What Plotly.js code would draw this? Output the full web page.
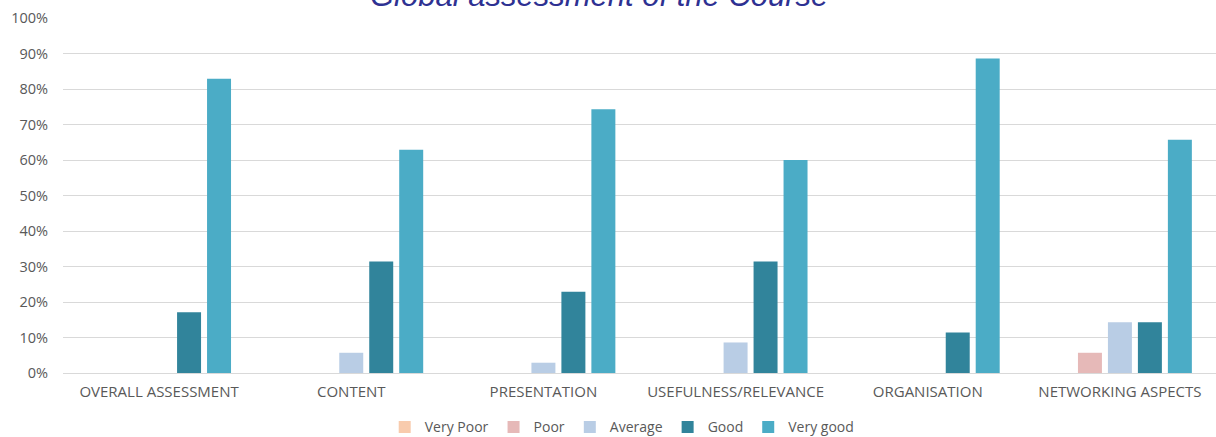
<!DOCTYPE html>
<html>
<head>
<meta charset="utf-8">
<script src="https://cdn.plot.ly/plotly-3.0.1.min.js"></script>
<style>html,body{margin:0;padding:0;background:#fff;}#chart{width:1216px;height:437px;}</style>
</head>
<body>
<div id="chart"></div>
<script>
const categories = ["OVERALL ASSESSMENT", "CONTENT", "PRESENTATION", "USEFULNESS/RELEVANCE", "ORGANISATION", "NETWORKING ASPECTS"];
const seriesNames = ["Very Poor", "Poor", "Average", "Good", "Very good"];
const veryPoor = [0, 0, 0, 0, 0, 0];
const poor = [0, 0, 0, 0, 0, 0.057];
const average = [0, 0.057, 0.029, 0.086, 0, 0.143];
const good = [0.171, 0.314, 0.229, 0.314, 0.114, 0.143];
const veryGood = [0.829, 0.629, 0.743, 0.60, 0.886, 0.657];
const colors = ["#F8CBAD", "#E6B9B8", "#B9CDE5", "#31849B", "#4BACC6"];
const tickVals = [0, 0.1, 0.2, 0.3, 0.4, 0.5, 0.6, 0.7, 0.8, 0.9, 1.0];
const titleText = "Global assessment of the Course";

const allSeries = [veryPoor, poor, average, good, veryGood];
const traces = allSeries.map((vals, i) => ({
  type: "bar",
  name: seriesNames[i],
  x: categories,
  y: vals,
  marker: {color: colors[i]},
  hoverinfo: "skip"
}));

const font = {family: "Open Sans, Liberation Sans, sans-serif", size: 14.5, color: "#595959"};

const layout = {
  width: 1216,
  height: 437,
  margin: {l: 63, r: 0, t: 18, b: 64, autoexpand: false},
  paper_bgcolor: "#ffffff",
  plot_bgcolor: "#ffffff",
  barmode: "group",
  bargap: 0.22,
  bargroupgap: 0.2,
  font: font,
  annotations: [{
    text: "<i>" + titleText + "</i>",
    font: {family: "Liberation Sans, Arial, sans-serif", size: 31, color: "#2E3192"},
    xref: "paper",
    yref: "paper",
    x: 0.465,
    xanchor: "center",
    y: 1.062,
    yanchor: "middle",
    showarrow: false
  }],
  xaxis: {
    type: "category",
    tickfont: {family: font.family, size: 15, color: "#595959"},
    showgrid: false,
    showline: false,
    ticks: "",
    ticklabelstandoff: 8,
    automargin: false
  },
  yaxis: {
    range: [0, 1.0],
    tickvals: tickVals,
    tickformat: ".0%",
    tickfont: font,
    showgrid: true,
    gridcolor: "#D9D9D9",
    gridwidth: 1,
    zeroline: true,
    zerolinecolor: "#D9D9D9",
    zerolinewidth: 1,
    ticks: "",
    ticklabelstandoff: 14,
    automargin: false
  },
  showlegend: true,
  legend: {
    orientation: "h",
    x: 0.485,
    xanchor: "center",
    yref: "container",
    y: 0.022,
    yanchor: "middle",
    font: {family: font.family, size: 14, color: "#595959"},
    itemwidth: 30,
    traceorder: "normal"
  }
};

Plotly.newPlot("chart", traces, layout, {displayModeBar: false, staticPlot: true});
</script>
</body>
</html>
